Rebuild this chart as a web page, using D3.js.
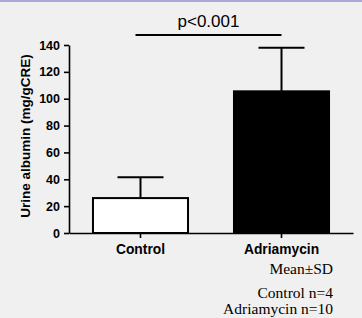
<!DOCTYPE html>
<html>
<head>
<meta charset="utf-8">
<script src="https://cdn.jsdelivr.net/npm/d3@7"></script>
<style>
  body { margin: 0; background: #f0f0f0; }
  svg { display: block; }
</style>
</head>
<body>
<div id="chart"></div>
<script>
// --- DATA ---
const categories = ["Control", "Adriamycin"];
const means = [26, 105.5];
const sds = [15.5, 32.5];
const fills = ["#ffffff", "#000000"];
const yTicks = [0, 20, 40, 60, 80, 100, 120, 140];
const pLabel = "p<0.001";
const notes = ["Mean\u00b1SD", "Control n=4", "Adriamycin n=10"];

const width = 362, height = 318;
const sans = "Arial, 'Liberation Sans', sans-serif";

const svg = d3.select("#chart").append("svg")
    .attr("width", width)
    .attr("height", height)
    .style("background", "#f0f0f0");

// bordure du haut
svg.append("rect")
    .attr("x", 0).attr("y", 0)
    .attr("width", width).attr("height", 2)
    .attr("fill", "#aaa8d8");

// --- SCALES ---
const y = d3.scaleLinear().domain([0, 140]).range([233, 45]);
const x = d3.scaleBand().domain(categories).range([69, 353]).paddingInner(0.326).paddingOuter(0.17);

// --- AXES ---
const yAxis = svg.append("g")
    .attr("transform", "translate(69,0)")
    .call(d3.axisLeft(y).tickValues(yTicks).tickSize(5).tickSizeOuter(0).tickPadding(4));
yAxis.select(".domain").attr("stroke", "#000").attr("stroke-width", 1.6);
yAxis.selectAll(".tick line").attr("stroke", "#000").attr("stroke-width", 1.6);
yAxis.selectAll("text")
    .attr("font-family", sans)
    .attr("font-size", 12.5)
    .attr("font-weight", "bold")
    .attr("fill", "#000");

const xAxis = svg.append("g")
    .attr("transform", "translate(0,233)")
    .call(d3.axisBottom(x).tickSize(5).tickSizeOuter(0).tickPadding(6));
xAxis.select(".domain").attr("stroke", "#000").attr("stroke-width", 1.6);
xAxis.selectAll(".tick line").attr("stroke", "#000").attr("stroke-width", 1.6);
xAxis.selectAll("text")
    .attr("font-family", sans)
    .attr("font-size", 13.8)
    .attr("font-weight", "bold")
    .attr("fill", "#000");

// --- ERROR BARS ---
const capW = 46;
categories.forEach((c, i) => {
    const cx = x(c) + x.bandwidth() / 2;
    svg.append("line")
        .attr("x1", cx).attr("x2", cx)
        .attr("y1", y(means[i])).attr("y2", y(means[i] + sds[i]))
        .attr("stroke", "#000").attr("stroke-width", 2);
    svg.append("line")
        .attr("x1", cx - capW / 2).attr("x2", cx + capW / 2)
        .attr("y1", y(means[i] + sds[i])).attr("y2", y(means[i] + sds[i]))
        .attr("stroke", "#000").attr("stroke-width", 2);
});

// --- BARS ---
svg.selectAll(".bar")
    .data(categories)
    .join("rect")
    .attr("class", "bar")
    .attr("x", c => x(c))
    .attr("y", (c, i) => y(means[i]))
    .attr("width", x.bandwidth())
    .attr("height", (c, i) => y(0) - y(means[i]))
    .attr("fill", (c, i) => fills[i])
    .attr("stroke", "#000")
    .attr("stroke-width", 2);

// --- SIGNIFICANCE ---
const x0 = x(categories[0]) + x.bandwidth() / 2 - 5;
const x1 = x(categories[1]) + x.bandwidth() / 2;
svg.append("line")
    .attr("x1", x0).attr("x2", x1)
    .attr("y1", 35).attr("y2", 35)
    .attr("stroke", "#000").attr("stroke-width", 2);
svg.append("text")
    .attr("x", (x0 + x1) / 2)
    .attr("y", 27)
    .attr("text-anchor", "middle")
    .attr("font-family", sans)
    .attr("font-size", 17)
    .text(pLabel);

// --- Y LABEL ---
svg.append("text")
    .attr("transform", "translate(30,136) rotate(-90)")
    .attr("text-anchor", "middle")
    .attr("font-family", sans)
    .attr("font-size", 13.5)
    .attr("font-weight", "bold")
    .text("Urine albumin (mg/gCRE)");

// --- NOTES ---
const noteY = [274, 298, 314];
svg.selectAll(".note")
    .data(notes)
    .join("text")
    .attr("class", "note")
    .attr("x", 333)
    .attr("y", (d, i) => noteY[i])
    .attr("text-anchor", "end")
    .attr("font-family", "'Liberation Serif', 'Times New Roman', serif")
    .attr("font-size", 15.5)
    .text(d => d);
</script>
</body>
</html>
